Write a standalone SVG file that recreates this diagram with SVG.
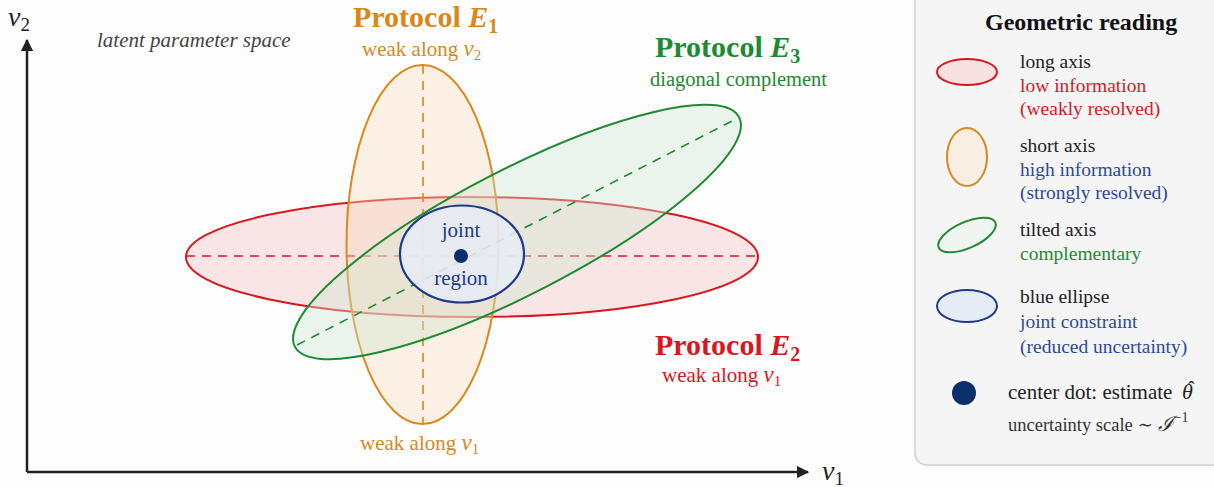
<svg xmlns="http://www.w3.org/2000/svg" width="1214" height="487" viewBox="0 0 1214 487">
<style>
.t{font-family:"Liberation Serif","DejaVu Serif",serif}
.it{font-style:italic}
.b{font-weight:bold}
.ax{stroke:#222;stroke-width:2.5;fill:none}
.dash{stroke-dasharray:9 7;stroke-width:1.6;fill:none}
.lg{font-size:19.5px}
</style>
<defs>
<marker id="arr" viewBox="0 0 10 10" refX="9" refY="5" markerWidth="5" markerHeight="5" orient="auto-start-reverse" markerUnits="strokeWidth">
<path d="M0,0 L10,5 L0,10 z" fill="#222"/>
</marker>
</defs>
<rect width="1214" height="487" fill="#fdfdfd"/>
<g id="axes">
<line class="ax" x1="27" y1="472" x2="27" y2="40" marker-end="url(#arr)"/>
<line class="ax" x1="27" y1="472" x2="808" y2="472" marker-end="url(#arr)"/>
<text class="t it" x="8" y="26" font-size="28" fill="#222">v<tspan font-size="19" dy="5" font-style="normal">2</tspan></text>
<text class="t it" x="822" y="480" font-size="28" fill="#222">v<tspan font-size="19" dy="5" font-style="normal">1</tspan></text>
<text class="t it" x="97" y="47" font-size="21" fill="#444">latent parameter space</text>
</g>
<g id="protocol-E2">
<ellipse cx="472" cy="257" rx="286" ry="60" fill="#f4c4c4" fill-opacity="0.42" stroke="#d7191f" stroke-width="2"/>
<line class="dash" x1="186" y1="256" x2="758" y2="256" stroke="#d7191f"/>
<text class="t b" x="655" y="355" font-size="30" fill="#d7191f">Protocol <tspan class="it">E</tspan><tspan font-size="20" dy="6">2</tspan></text>
<text class="t" x="662" y="382" font-size="21" fill="#d7191f">weak along <tspan class="it" font-size="23">v</tspan><tspan font-size="15" dy="4">1</tspan></text>
</g>
<g id="protocol-E1">
<ellipse cx="422.5" cy="244.5" rx="76" ry="179.5" fill="#f8dcbc" fill-opacity="0.4" stroke="#d9881c" stroke-width="2"/>
<line class="dash" x1="423" y1="65" x2="423" y2="424" stroke="#d9881c"/>
<text class="t b" x="353" y="27" font-size="30" fill="#d9881c">Protocol <tspan class="it">E</tspan><tspan font-size="20" dy="6">1</tspan></text>
<text class="t" x="362" y="56" font-size="21" fill="#d9881c">weak along <tspan class="it" font-size="23">v</tspan><tspan font-size="15" dy="4">2</tspan></text>
<text class="t" x="360" y="450" font-size="21" fill="#d9881c">weak along <tspan class="it" font-size="23">v</tspan><tspan font-size="15" dy="4">1</tspan></text>
</g>
<g id="protocol-E3">
<ellipse cx="0" cy="0" rx="250" ry="62" transform="translate(517 232) rotate(-27.3)" fill="#cfe6d2" fill-opacity="0.4" stroke="#1e8a32" stroke-width="2"/>
<line class="dash" x1="297" y1="345" x2="736" y2="119" stroke="#1e8a32"/>
<text class="t b" x="655" y="57" font-size="30" fill="#1e8a32">Protocol <tspan class="it">E</tspan><tspan font-size="20" dy="6">3</tspan></text>
<text class="t" x="650" y="86" font-size="20.5" fill="#1e8a32">diagonal complement</text>
</g>
<g id="joint-region">
<ellipse cx="462" cy="254" rx="62" ry="48.5" fill="#e6ecf5" fill-opacity="0.88" stroke="#1f3a8a" stroke-width="2.2"/>
<circle cx="461" cy="256" r="7" fill="#0b2f6b"/>
<text class="t" x="461" y="237" font-size="21" fill="#1f3a8a" text-anchor="middle">joint</text>
<text class="t" x="461" y="285" font-size="21" fill="#1f3a8a" text-anchor="middle">region</text>
</g>
<g id="legend">
<rect x="915" y="-10" width="320" height="475" rx="12" fill="#f5f5f5" stroke="#cfcfcf" stroke-width="1.5"/>
<text class="t b" x="985" y="30" font-size="24" fill="#111">Geometric reading</text>
<ellipse cx="967" cy="72" rx="30" ry="13" fill="#f6e0e0" stroke="#d7191f" stroke-width="2"/>
<text class="t lg" x="1020" y="68" fill="#222">long axis</text>
<text class="t lg" x="1020" y="92" fill="#d7191f">low information</text>
<text class="t lg" x="1020" y="115" fill="#d7191f">(weakly resolved)</text>
<ellipse cx="967" cy="157" rx="20" ry="29" fill="#f8eee2" stroke="#d9881c" stroke-width="2"/>
<text class="t lg" x="1020" y="152" fill="#222">short axis</text>
<text class="t lg" x="1020" y="176" fill="#2c4a9a">high information</text>
<text class="t lg" x="1020" y="199" fill="#2c4a9a">(strongly resolved)</text>
<ellipse cx="0" cy="0" rx="31" ry="13" transform="translate(967 235) rotate(-24)" fill="#f1f5f1" stroke="#1e8a32" stroke-width="2"/>
<text class="t lg" x="1020" y="236" fill="#222">tilted axis</text>
<text class="t lg" x="1020" y="260" fill="#1e8a32">complementary</text>
<ellipse cx="967" cy="306" rx="30" ry="16" fill="#e6ecf5" stroke="#1f3a8a" stroke-width="2"/>
<text class="t lg" x="1020" y="303" fill="#222">blue ellipse</text>
<text class="t lg" x="1020" y="328" fill="#2c4a9a">joint constraint</text>
<text class="t lg" x="1020" y="353" fill="#2c4a9a">(reduced uncertainty)</text>
<circle cx="964" cy="393" r="12" fill="#0b2f6b"/>
<text class="t" x="1008" y="399" font-size="21" fill="#222">center dot: estimate <tspan class="it" x="1182" font-size="22">θ</tspan><tspan x="1188" dy="-3" font-size="20">ˆ</tspan></text>
<text class="t" x="1008" y="431" font-size="18.5" fill="#333">uncertainty scale ∼ <tspan class="it" font-size="21">ℐ</tspan><tspan font-size="14" dy="-9">−1</tspan></text>
</g>
</svg>
